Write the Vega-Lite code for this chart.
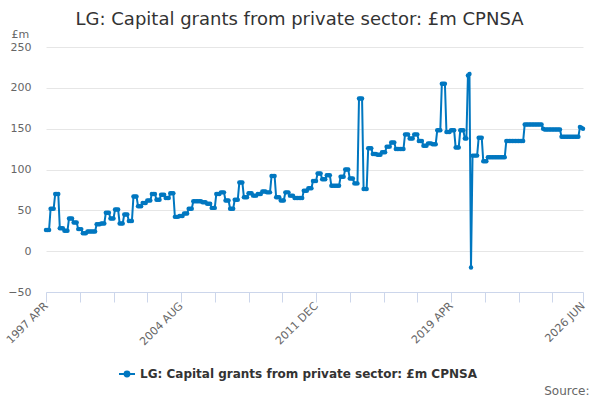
{
  "$schema": "https://vega.github.io/schema/vega-lite/v6.json",
  "description": "LG: Capital grants from private sector, monthly, 1997 APR to 2026 JUN",
  "autosize": {"type": "none"},
  "padding": {"left": 46, "top": 47, "right": 17, "bottom": 108},
  "width": 537,
  "height": 245,
  "background": "white",
  "config": {
    "view": {"stroke": null},
    "font": "DejaVu Sans"
  },
  "title": {
    "text": "LG: Capital grants from private sector: £m CPNSA",
    "fontSize": 18,
    "fontWeight": "normal",
    "color": "#333333",
    "anchor": "middle",
    "frame": "group",
    "dx": -15,
    "offset": -1
  },
  "data": {
    "values": [
      {"m": "1997 APR", "v": 26}, {"m": "1997 MAY", "v": 26}, {"m": "1997 JUN", "v": 26},
      {"m": "1997 JUL", "v": 52}, {"m": "1997 AUG", "v": 52}, {"m": "1997 SEP", "v": 52},
      {"m": "1997 OCT", "v": 70}, {"m": "1997 NOV", "v": 70}, {"m": "1997 DEC", "v": 70},
      {"m": "1998 JAN", "v": 28}, {"m": "1998 FEB", "v": 28}, {"m": "1998 MAR", "v": 28},
      {"m": "1998 APR", "v": 25}, {"m": "1998 MAY", "v": 25}, {"m": "1998 JUN", "v": 25},
      {"m": "1998 JUL", "v": 40}, {"m": "1998 AUG", "v": 40}, {"m": "1998 SEP", "v": 40},
      {"m": "1998 OCT", "v": 35}, {"m": "1998 NOV", "v": 35}, {"m": "1998 DEC", "v": 35},
      {"m": "1999 JAN", "v": 27}, {"m": "1999 FEB", "v": 27}, {"m": "1999 MAR", "v": 27},
      {"m": "1999 APR", "v": 22}, {"m": "1999 MAY", "v": 22}, {"m": "1999 JUN", "v": 22},
      {"m": "1999 JUL", "v": 24}, {"m": "1999 AUG", "v": 24}, {"m": "1999 SEP", "v": 24},
      {"m": "1999 OCT", "v": 24}, {"m": "1999 NOV", "v": 24}, {"m": "1999 DEC", "v": 24},
      {"m": "2000 JAN", "v": 33}, {"m": "2000 FEB", "v": 33}, {"m": "2000 MAR", "v": 33},
      {"m": "2000 APR", "v": 34}, {"m": "2000 MAY", "v": 34}, {"m": "2000 JUN", "v": 34},
      {"m": "2000 JUL", "v": 47}, {"m": "2000 AUG", "v": 47}, {"m": "2000 SEP", "v": 47},
      {"m": "2000 OCT", "v": 40}, {"m": "2000 NOV", "v": 40}, {"m": "2000 DEC", "v": 40},
      {"m": "2001 JAN", "v": 51}, {"m": "2001 FEB", "v": 51}, {"m": "2001 MAR", "v": 51},
      {"m": "2001 APR", "v": 34}, {"m": "2001 MAY", "v": 34}, {"m": "2001 JUN", "v": 34},
      {"m": "2001 JUL", "v": 45}, {"m": "2001 AUG", "v": 45}, {"m": "2001 SEP", "v": 45},
      {"m": "2001 OCT", "v": 37}, {"m": "2001 NOV", "v": 37}, {"m": "2001 DEC", "v": 37},
      {"m": "2002 JAN", "v": 67}, {"m": "2002 FEB", "v": 67}, {"m": "2002 MAR", "v": 67},
      {"m": "2002 APR", "v": 55}, {"m": "2002 MAY", "v": 55}, {"m": "2002 JUN", "v": 55},
      {"m": "2002 JUL", "v": 59}, {"m": "2002 AUG", "v": 59}, {"m": "2002 SEP", "v": 59},
      {"m": "2002 OCT", "v": 62}, {"m": "2002 NOV", "v": 62}, {"m": "2002 DEC", "v": 62},
      {"m": "2003 JAN", "v": 70}, {"m": "2003 FEB", "v": 70}, {"m": "2003 MAR", "v": 70},
      {"m": "2003 APR", "v": 63}, {"m": "2003 MAY", "v": 63}, {"m": "2003 JUN", "v": 63},
      {"m": "2003 JUL", "v": 69}, {"m": "2003 AUG", "v": 69}, {"m": "2003 SEP", "v": 69},
      {"m": "2003 OCT", "v": 65}, {"m": "2003 NOV", "v": 65}, {"m": "2003 DEC", "v": 65},
      {"m": "2004 JAN", "v": 71}, {"m": "2004 FEB", "v": 71}, {"m": "2004 MAR", "v": 71},
      {"m": "2004 APR", "v": 42}, {"m": "2004 MAY", "v": 42}, {"m": "2004 JUN", "v": 42},
      {"m": "2004 JUL", "v": 43}, {"m": "2004 AUG", "v": 43}, {"m": "2004 SEP", "v": 43},
      {"m": "2004 OCT", "v": 46}, {"m": "2004 NOV", "v": 46}, {"m": "2004 DEC", "v": 46},
      {"m": "2005 JAN", "v": 52}, {"m": "2005 FEB", "v": 52}, {"m": "2005 MAR", "v": 52},
      {"m": "2005 APR", "v": 61}, {"m": "2005 MAY", "v": 61}, {"m": "2005 JUN", "v": 61},
      {"m": "2005 JUL", "v": 61}, {"m": "2005 AUG", "v": 61}, {"m": "2005 SEP", "v": 61},
      {"m": "2005 OCT", "v": 60}, {"m": "2005 NOV", "v": 60}, {"m": "2005 DEC", "v": 60},
      {"m": "2006 JAN", "v": 58}, {"m": "2006 FEB", "v": 58}, {"m": "2006 MAR", "v": 58},
      {"m": "2006 APR", "v": 53}, {"m": "2006 MAY", "v": 53}, {"m": "2006 JUN", "v": 53},
      {"m": "2006 JUL", "v": 70}, {"m": "2006 AUG", "v": 70}, {"m": "2006 SEP", "v": 70},
      {"m": "2006 OCT", "v": 72}, {"m": "2006 NOV", "v": 72}, {"m": "2006 DEC", "v": 72},
      {"m": "2007 JAN", "v": 62}, {"m": "2007 FEB", "v": 62}, {"m": "2007 MAR", "v": 62},
      {"m": "2007 APR", "v": 52}, {"m": "2007 MAY", "v": 52}, {"m": "2007 JUN", "v": 52},
      {"m": "2007 JUL", "v": 63}, {"m": "2007 AUG", "v": 63}, {"m": "2007 SEP", "v": 63},
      {"m": "2007 OCT", "v": 84}, {"m": "2007 NOV", "v": 84}, {"m": "2007 DEC", "v": 84},
      {"m": "2008 JAN", "v": 66}, {"m": "2008 FEB", "v": 66}, {"m": "2008 MAR", "v": 66},
      {"m": "2008 APR", "v": 71}, {"m": "2008 MAY", "v": 71}, {"m": "2008 JUN", "v": 71},
      {"m": "2008 JUL", "v": 68}, {"m": "2008 AUG", "v": 68}, {"m": "2008 SEP", "v": 68},
      {"m": "2008 OCT", "v": 70}, {"m": "2008 NOV", "v": 70}, {"m": "2008 DEC", "v": 70},
      {"m": "2009 JAN", "v": 73}, {"m": "2009 FEB", "v": 73}, {"m": "2009 MAR", "v": 73},
      {"m": "2009 APR", "v": 72}, {"m": "2009 MAY", "v": 72}, {"m": "2009 JUN", "v": 72},
      {"m": "2009 JUL", "v": 92}, {"m": "2009 AUG", "v": 92}, {"m": "2009 SEP", "v": 92},
      {"m": "2009 OCT", "v": 66}, {"m": "2009 NOV", "v": 66}, {"m": "2009 DEC", "v": 66},
      {"m": "2010 JAN", "v": 62}, {"m": "2010 FEB", "v": 62}, {"m": "2010 MAR", "v": 62},
      {"m": "2010 APR", "v": 72}, {"m": "2010 MAY", "v": 72}, {"m": "2010 JUN", "v": 72},
      {"m": "2010 JUL", "v": 68}, {"m": "2010 AUG", "v": 68}, {"m": "2010 SEP", "v": 68},
      {"m": "2010 OCT", "v": 65}, {"m": "2010 NOV", "v": 65}, {"m": "2010 DEC", "v": 65},
      {"m": "2011 JAN", "v": 65}, {"m": "2011 FEB", "v": 65}, {"m": "2011 MAR", "v": 65},
      {"m": "2011 APR", "v": 74}, {"m": "2011 MAY", "v": 74}, {"m": "2011 JUN", "v": 74},
      {"m": "2011 JUL", "v": 77}, {"m": "2011 AUG", "v": 77}, {"m": "2011 SEP", "v": 77},
      {"m": "2011 OCT", "v": 86}, {"m": "2011 NOV", "v": 86}, {"m": "2011 DEC", "v": 86},
      {"m": "2012 JAN", "v": 95}, {"m": "2012 FEB", "v": 95}, {"m": "2012 MAR", "v": 95},
      {"m": "2012 APR", "v": 88}, {"m": "2012 MAY", "v": 88}, {"m": "2012 JUN", "v": 88},
      {"m": "2012 JUL", "v": 93}, {"m": "2012 AUG", "v": 93}, {"m": "2012 SEP", "v": 93},
      {"m": "2012 OCT", "v": 80}, {"m": "2012 NOV", "v": 80}, {"m": "2012 DEC", "v": 80},
      {"m": "2013 JAN", "v": 80}, {"m": "2013 FEB", "v": 80}, {"m": "2013 MAR", "v": 80},
      {"m": "2013 APR", "v": 91}, {"m": "2013 MAY", "v": 91}, {"m": "2013 JUN", "v": 91},
      {"m": "2013 JUL", "v": 100}, {"m": "2013 AUG", "v": 100}, {"m": "2013 SEP", "v": 100},
      {"m": "2013 OCT", "v": 89}, {"m": "2013 NOV", "v": 89}, {"m": "2013 DEC", "v": 89},
      {"m": "2014 JAN", "v": 83}, {"m": "2014 FEB", "v": 83}, {"m": "2014 MAR", "v": 83},
      {"m": "2014 APR", "v": 187}, {"m": "2014 MAY", "v": 187}, {"m": "2014 JUN", "v": 187},
      {"m": "2014 JUL", "v": 76}, {"m": "2014 AUG", "v": 76}, {"m": "2014 SEP", "v": 76},
      {"m": "2014 OCT", "v": 126}, {"m": "2014 NOV", "v": 126}, {"m": "2014 DEC", "v": 126},
      {"m": "2015 JAN", "v": 119}, {"m": "2015 FEB", "v": 119}, {"m": "2015 MAR", "v": 119},
      {"m": "2015 APR", "v": 118}, {"m": "2015 MAY", "v": 118}, {"m": "2015 JUN", "v": 118},
      {"m": "2015 JUL", "v": 121}, {"m": "2015 AUG", "v": 121}, {"m": "2015 SEP", "v": 121},
      {"m": "2015 OCT", "v": 128}, {"m": "2015 NOV", "v": 128}, {"m": "2015 DEC", "v": 128},
      {"m": "2016 JAN", "v": 133}, {"m": "2016 FEB", "v": 133}, {"m": "2016 MAR", "v": 133},
      {"m": "2016 APR", "v": 125}, {"m": "2016 MAY", "v": 125}, {"m": "2016 JUN", "v": 125},
      {"m": "2016 JUL", "v": 125}, {"m": "2016 AUG", "v": 125}, {"m": "2016 SEP", "v": 125},
      {"m": "2016 OCT", "v": 143}, {"m": "2016 NOV", "v": 143}, {"m": "2016 DEC", "v": 143},
      {"m": "2017 JAN", "v": 138}, {"m": "2017 FEB", "v": 138}, {"m": "2017 MAR", "v": 138},
      {"m": "2017 APR", "v": 143}, {"m": "2017 MAY", "v": 143}, {"m": "2017 JUN", "v": 143},
      {"m": "2017 JUL", "v": 135}, {"m": "2017 AUG", "v": 135}, {"m": "2017 SEP", "v": 135},
      {"m": "2017 OCT", "v": 129}, {"m": "2017 NOV", "v": 129}, {"m": "2017 DEC", "v": 129},
      {"m": "2018 JAN", "v": 132}, {"m": "2018 FEB", "v": 132}, {"m": "2018 MAR", "v": 132},
      {"m": "2018 APR", "v": 131}, {"m": "2018 MAY", "v": 131}, {"m": "2018 JUN", "v": 131},
      {"m": "2018 JUL", "v": 148}, {"m": "2018 AUG", "v": 148}, {"m": "2018 SEP", "v": 148},
      {"m": "2018 OCT", "v": 205}, {"m": "2018 NOV", "v": 205}, {"m": "2018 DEC", "v": 205},
      {"m": "2019 JAN", "v": 146}, {"m": "2019 FEB", "v": 146}, {"m": "2019 MAR", "v": 146},
      {"m": "2019 APR", "v": 148}, {"m": "2019 MAY", "v": 148}, {"m": "2019 JUN", "v": 148},
      {"m": "2019 JUL", "v": 127}, {"m": "2019 AUG", "v": 127}, {"m": "2019 SEP", "v": 127},
      {"m": "2019 OCT", "v": 148}, {"m": "2019 NOV", "v": 148}, {"m": "2019 DEC", "v": 148},
      {"m": "2020 JAN", "v": 138}, {"m": "2020 FEB", "v": 138}, {"m": "2020 MAR", "v": 215},
      {"m": "2020 APR", "v": 217}, {"m": "2020 MAY", "v": -20}, {"m": "2020 JUN", "v": 117},
      {"m": "2020 JUL", "v": 117}, {"m": "2020 AUG", "v": 117}, {"m": "2020 SEP", "v": 117},
      {"m": "2020 OCT", "v": 139}, {"m": "2020 NOV", "v": 139}, {"m": "2020 DEC", "v": 139},
      {"m": "2021 JAN", "v": 110}, {"m": "2021 FEB", "v": 110}, {"m": "2021 MAR", "v": 110},
      {"m": "2021 APR", "v": 115}, {"m": "2021 MAY", "v": 115}, {"m": "2021 JUN", "v": 115},
      {"m": "2021 JUL", "v": 115}, {"m": "2021 AUG", "v": 115}, {"m": "2021 SEP", "v": 115},
      {"m": "2021 OCT", "v": 115}, {"m": "2021 NOV", "v": 115}, {"m": "2021 DEC", "v": 115},
      {"m": "2022 JAN", "v": 115}, {"m": "2022 FEB", "v": 115}, {"m": "2022 MAR", "v": 115},
      {"m": "2022 APR", "v": 135}, {"m": "2022 MAY", "v": 135}, {"m": "2022 JUN", "v": 135},
      {"m": "2022 JUL", "v": 135}, {"m": "2022 AUG", "v": 135}, {"m": "2022 SEP", "v": 135},
      {"m": "2022 OCT", "v": 135}, {"m": "2022 NOV", "v": 135}, {"m": "2022 DEC", "v": 135},
      {"m": "2023 JAN", "v": 135}, {"m": "2023 FEB", "v": 135}, {"m": "2023 MAR", "v": 135},
      {"m": "2023 APR", "v": 155}, {"m": "2023 MAY", "v": 155}, {"m": "2023 JUN", "v": 155},
      {"m": "2023 JUL", "v": 155}, {"m": "2023 AUG", "v": 155}, {"m": "2023 SEP", "v": 155},
      {"m": "2023 OCT", "v": 155}, {"m": "2023 NOV", "v": 155}, {"m": "2023 DEC", "v": 155},
      {"m": "2024 JAN", "v": 155}, {"m": "2024 FEB", "v": 155}, {"m": "2024 MAR", "v": 155},
      {"m": "2024 APR", "v": 150}, {"m": "2024 MAY", "v": 149}, {"m": "2024 JUN", "v": 149},
      {"m": "2024 JUL", "v": 149}, {"m": "2024 AUG", "v": 149}, {"m": "2024 SEP", "v": 149},
      {"m": "2024 OCT", "v": 149}, {"m": "2024 NOV", "v": 149}, {"m": "2024 DEC", "v": 149},
      {"m": "2025 JAN", "v": 149}, {"m": "2025 FEB", "v": 149}, {"m": "2025 MAR", "v": 149},
      {"m": "2025 APR", "v": 140}, {"m": "2025 MAY", "v": 140}, {"m": "2025 JUN", "v": 140},
      {"m": "2025 JUL", "v": 140}, {"m": "2025 AUG", "v": 140}, {"m": "2025 SEP", "v": 140},
      {"m": "2025 OCT", "v": 140}, {"m": "2025 NOV", "v": 140}, {"m": "2025 DEC", "v": 140},
      {"m": "2026 JAN", "v": 140}, {"m": "2026 FEB", "v": 140}, {"m": "2026 MAR", "v": 140},
      {"m": "2026 APR", "v": 152}, {"m": "2026 MAY", "v": 151}, {"m": "2026 JUN", "v": 150}
    ]
  },
  "mark": {
    "type": "line",
    "strokeWidth": 2,
    "point": {"filled": true, "size": 20}
  },
  "encoding": {
    "x": {
      "field": "m",
      "type": "ordinal",
      "sort": null,
      "scale": {"type": "point", "padding": 0},
      "axis": {
        "title": "Source:",
        "titleX": 543,
        "titleY": 102,
        "titleAlign": "right",
        "titleBaseline": "alphabetic",
        "titleFontWeight": "normal",
        "titleFontSize": 12,
        "titleColor": "#666666",
        "grid": false,
        "domainColor": "#ccd6eb",
        "tickColor": "#ccd6eb",
        "tickSize": 10,
        "values": ["1997 APR", "1999 FEB", "2000 DEC", "2002 OCT", "2004 AUG", "2006 JUN", "2008 APR", "2010 FEB", "2011 DEC", "2013 OCT", "2015 AUG", "2017 JUN", "2019 APR", "2021 FEB", "2022 DEC", "2024 OCT", "2026 JUN"],
        "labelExpr": "indexof(['1997 APR', '2004 AUG', '2011 DEC', '2019 APR', '2026 JUN'], datum.value) >= 0 ? datum.value : ''",
        "labelOverlap": false,
        "labelAngle": -45,
        "labelAlign": "right",
        "labelBaseline": "middle",
        "labelPadding": 2,
        "labelColor": "#666666",
        "labelFontSize": 11
      }
    },
    "y": {
      "field": "v",
      "type": "quantitative",
      "scale": {"domain": [-50, 250], "nice": false, "zero": false},
      "axis": {
        "title": "£m",
        "titleAngle": 0,
        "titleX": -35,
        "titleY": -10,
        "titleAlign": "left",
        "titleBaseline": "alphabetic",
        "titleFontWeight": "normal",
        "titleFontSize": 11,
        "titleColor": "#666666",
        "values": [-50, 0, 50, 100, 150, 200, 250],
        "grid": true,
        "gridColor": "#e6e6e6",
        "domain": false,
        "ticks": false,
        "labelPadding": 15,
        "labelColor": "#666666",
        "labelFontSize": 11
      }
    },
    "color": {
      "datum": "LG: Capital grants from private sector: £m CPNSA",
      "scale": {"range": ["#0077c0"]},
      "legend": {
        "title": null,
        "orient": "none",
        "legendX": 72,
        "legendY": 318,
        "labelLimit": 0,
        "symbolType": "M-1,0L1,0M-0.3,0A0.3,0.3,0,1,0,0.3,0A0.3,0.3,0,1,0,-0.3,0Z",
        "symbolSize": 256,
        "symbolStrokeWidth": 2,
        "symbolFillColor": "#0077c0",
        "symbolStrokeColor": "#0077c0",
        "labelFontSize": 12,
        "labelFontWeight": "bold",
        "labelColor": "#333333"
      }
    }
  }
}
